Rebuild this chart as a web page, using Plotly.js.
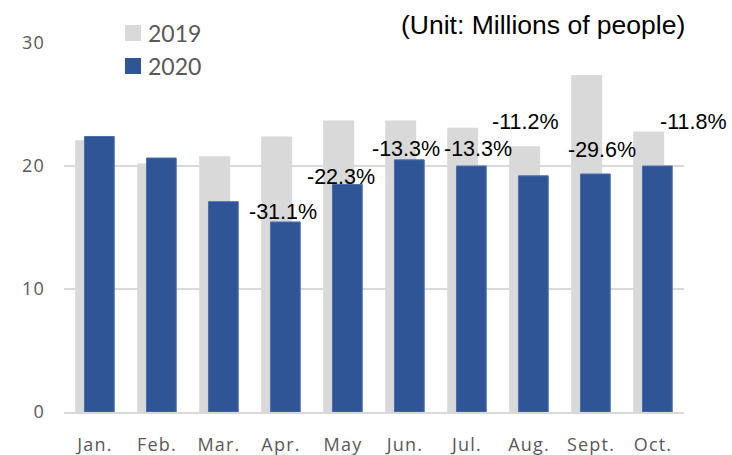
<!DOCTYPE html>
<html>
<head>
<meta charset="utf-8">
<script src="https://cdn.plot.ly/plotly-3.0.1.min.js"></script>
<style>html,body{margin:0;padding:0;background:#fff;}#chart{width:732px;height:455px;}
.xtick text,.ytick text{letter-spacing:1.2px;}</style>
</head>
<body>
<div id="chart"></div>
<script>
const months = ["Jan.","Feb.","Mar.","Apr.","May","Jun.","Jul.","Aug.","Sept.","Oct."];
const v2019 = [22.1, 20.2, 20.8, 22.4, 23.7, 23.7, 23.1, 21.6, 27.4, 22.8];
const v2020 = [22.4, 20.65, 17.1, 15.45, 18.5, 20.5, 20.0, 19.2, 19.35, 20.0];
const changeLabels = ["", "", "", "-31.1%", "-22.3%", "-13.3%", "-13.3%", "-11.2%", "-29.6%", "-11.8%"];
// label placement (layout only)
const labelY = [0, 0, 0, 16.3, 19.1, 21.4, 21.4, 23.6, 21.3, 23.6];
const labelShift = [0, 0, 0, 2, -2, 1, 11, -4, 11, 40];

const gray = "#D9D9D9", blue = "#2F5597", txt = "#595959";

const traces = [
  {type:"bar", name:"2019", x:months, y:v2019, width:0.5, offset:-0.32,
   marker:{color:gray, line:{width:0}}, hoverinfo:"skip", showlegend:false},
  {type:"bar", name:"2020", x:months, y:v2020, width:0.48, offset:-0.17,
   marker:{color:blue, line:{width:1, color:"#4A6FB0"}}, hoverinfo:"skip", showlegend:false}
];

const annotations = [];
months.forEach((m,i)=>{
  if(!changeLabels[i]) return;
  annotations.push({x:m, y:labelY[i], xref:"x", yref:"y", text:changeLabels[i], showarrow:false,
    xshift:labelShift[i], yanchor:"middle", xanchor:"center",
    font:{family:"Liberation Sans, Arial, sans-serif", size:21.5, color:"#000"}});
});
annotations.push({xref:"paper", yref:"paper", x:1.0, y:1.0, xanchor:"right", yanchor:"middle",
  xshift:3, yshift:18,
  text:"(Unit: Millions of people)", showarrow:false,
  font:{family:"Liberation Sans, Arial, sans-serif", size:26.5, color:"#000"}});
// legend
const legItems = [["2019", gray, 33], ["2020", blue, 66]];
const shapes = [];
legItems.forEach(([t,c,yc])=>{
  shapes.push({type:"rect", xref:"paper", yref:"paper",
    x0:(125-64)/620, x1:(141-64)/620, y0:(412-(yc+8))/369, y1:(412-(yc-8))/369,
    fillcolor:c, line:{width:0}});
  annotations.push({xref:"paper", yref:"paper", x:(146-64)/620, y:(412-yc)/369, xanchor:"left", yanchor:"middle",
    text:t, showarrow:false, font:{family:"Lato, 'Open Sans', sans-serif", size:23, color:txt}});
});

const layout = {
  width:732, height:455,
  margin:{l:64, r:48, t:43, b:43},
  paper_bgcolor:"#fff", plot_bgcolor:"#fff",
  barmode:"overlay",
  showlegend:false,
  font:{family:"'Open Sans', sans-serif", color:txt},
  xaxis:{type:"category", range:[-0.5, 9.5], showgrid:false, zeroline:false, showline:true, linecolor:gray, linewidth:2,
    ticks:"", tickfont:{size:18, color:txt}, ticklabelstandoff:15, fixedrange:true},
  yaxis:{range:[0,30], dtick:10, showgrid:true, gridcolor:gray, gridwidth:2, zeroline:false, showline:false,
    ticks:"", tickfont:{size:18, color:txt}, ticklabelstandoff:18, fixedrange:true},
  annotations:annotations,
  shapes:shapes
};
Plotly.newPlot("chart", traces, layout, {displayModeBar:false, staticPlot:true});
</script>
</body>
</html>
